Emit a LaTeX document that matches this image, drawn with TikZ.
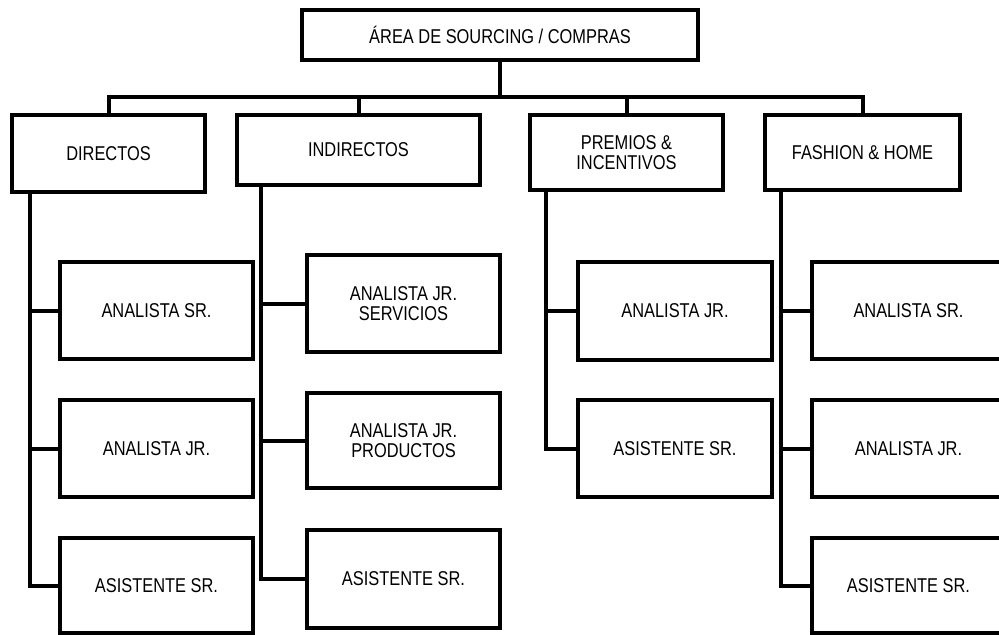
\documentclass[tikz,border=0pt]{standalone}
\usepackage{fontspec}
\setmainfont{Liberation Sans}[FakeStretch=0.82]
\tikzset{
  box/.style 2 args={draw, line width=3.3pt, align=center, inner sep=2pt,
    minimum width=#1*0.75pt, minimum height=#2*0.75pt,
    font=\fontsize{15}{15}\selectfont},
  conn/.style={line width=3pt}
}
\begin{document}
\begin{tikzpicture}[x=0.75pt, y=-0.75pt]
\useasboundingbox (0,0) rectangle (999,635);
\node[box={396}{50}] (top) at (500,35) {ÁREA DE SOURCING / COMPRAS};
\node[box={193}{77}] (dir) at (108.5,153.5) {DIRECTOS};
\node[box={243}{70}] (ind) at (358.5,150) {INDIRECTOS};
\node[box={193}{75}] (prem) at (626.5,152.5) {PREMIOS \&\\INCENTIVOS};
\node[box={195}{75}] (fash) at (862.5,152.5) {FASHION \& HOME};
\node[box={193}{97}] (d1) at (156.5,310.5) {ANALISTA SR.};
\node[box={193}{97}] (d2) at (156.5,448.5) {ANALISTA JR.};
\node[box={193}{95}] (d3) at (156.5,585.5) {ASISTENTE SR.};
\node[box={193}{97}] (i1) at (403.5,303.5) {ANALISTA JR.\\SERVICIOS};
\node[box={193}{95}] (i2) at (403.5,440.5) {ANALISTA JR.\\PRODUCTOS};
\node[box={193}{98}] (i3) at (403.5,579) {ASISTENTE SR.};
\node[box={194}{98}] (p1) at (675,311) {ANALISTA JR.};
\node[box={194}{97}] (p2) at (675,448.5) {ASISTENTE SR.};
\node[box={193}{97}] (f1) at (908.5,310.5) {ANALISTA SR.};
\node[box={193}{97}] (f2) at (908.5,448.5) {ANALISTA JR.};
\node[box={193}{95}] (f3) at (908.5,585.5) {ASISTENTE SR.};
\coordinate (bus) at (500,97);
\draw[conn] (top.south) -- (bus);
\draw[conn] (dir.north) |- (bus) -| (fash.north);
\draw[conn] (ind.north) -- (ind.north |- bus);
\draw[conn] (prem.north) -- (prem.north |- bus);
\draw[conn] ([xshift=15pt]dir.south west) coordinate (dsp) |- (d3.west);
\foreach \n in {d1,d2} \draw[conn] (dsp |- \n.west) -- (\n.west);
\draw[conn] ([xshift=19.5pt]ind.south west) coordinate (isp) |- (i3.west);
\foreach \n in {i1,i2} \draw[conn] (isp |- \n.west) -- (\n.west);
\draw[conn] ([xshift=13.5pt]prem.south west) coordinate (psp) |- (p2.west);
\draw[conn] (psp |- p1.west) -- (p1.west);
\draw[conn] ([xshift=13.5pt]fash.south west) coordinate (fsp) |- (f3.west);
\foreach \n in {f1,f2} \draw[conn] (fsp |- \n.west) -- (\n.west);
\end{tikzpicture}
\end{document}
